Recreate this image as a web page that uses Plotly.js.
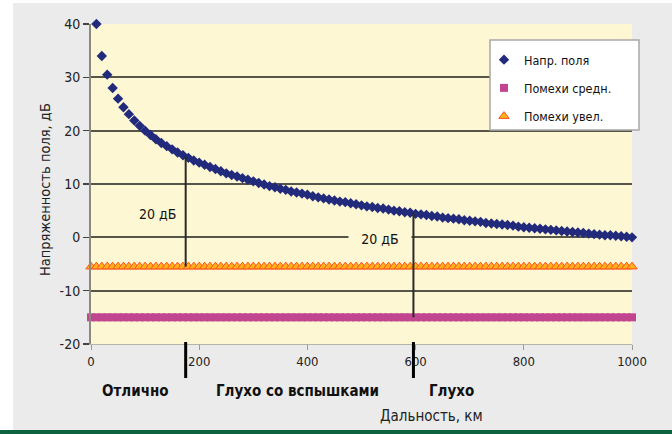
<!DOCTYPE html>
<html>
<head>
<meta charset="utf-8">
<script src="https://cdn.plot.ly/plotly-3.0.1.min.js"></script>
<style>
html,body{margin:0;padding:0;background:#fff;}
#chart{width:672px;height:434px;}
</style>
</head>
<body>
<div id="chart"></div>
<script>
// ---- data ----
var fieldDist = [10,20,30,40,50,60,70,80,90,100,110,120,130,140,150,160,170,180,190,200,210,220,230,240,250,260,270,280,290,300,310,320,330,340,350,360,370,380,390,400,410,420,430,440,450,460,470,480,490,500,510,520,530,540,550,560,570,580,590,600,610,620,630,640,650,660,670,680,690,700,710,720,730,740,750,760,770,780,790,800,810,820,830,840,850,860,870,880,890,900,910,920,930,940,950,960,970,980,990,1000];
var fieldDb = [40.0,34.0,30.5,28.0,26.0,24.4,23.1,21.9,20.9,20.0,19.2,18.4,17.7,17.1,16.5,15.9,15.4,14.9,14.4,14.0,13.6,13.2,12.8,12.4,12.0,11.7,11.4,11.1,10.8,10.5,10.2,9.9,9.6,9.4,9.1,8.9,8.6,8.4,8.2,8.0,7.7,7.5,7.3,7.1,6.9,6.7,6.6,6.4,6.2,6.0,5.8,5.7,5.5,5.4,5.2,5.0,4.9,4.7,4.6,4.4,4.3,4.2,4.0,3.9,3.7,3.6,3.5,3.4,3.2,3.1,3.0,2.9,2.7,2.6,2.5,2.4,2.3,2.2,2.0,1.9,1.8,1.7,1.6,1.5,1.4,1.3,1.2,1.1,1.0,0.9,0.8,0.7,0.6,0.5,0.4,0.4,0.3,0.2,0.1,0.0];
var noiseDist = [0,10,20,30,40,50,60,70,80,90,100,110,120,130,140,150,160,170,180,190,200,210,220,230,240,250,260,270,280,290,300,310,320,330,340,350,360,370,380,390,400,410,420,430,440,450,460,470,480,490,500,510,520,530,540,550,560,570,580,590,600,610,620,630,640,650,660,670,680,690,700,710,720,730,740,750,760,770,780,790,800,810,820,830,840,850,860,870,880,890,900,910,920,930,940,950,960,970,980,990,1000];
var noiseAvgDb = [-15,-15,-15,-15,-15,-15,-15,-15,-15,-15,-15,-15,-15,-15,-15,-15,-15,-15,-15,-15,-15,-15,-15,-15,-15,-15,-15,-15,-15,-15,-15,-15,-15,-15,-15,-15,-15,-15,-15,-15,-15,-15,-15,-15,-15,-15,-15,-15,-15,-15,-15,-15,-15,-15,-15,-15,-15,-15,-15,-15,-15,-15,-15,-15,-15,-15,-15,-15,-15,-15,-15,-15,-15,-15,-15,-15,-15,-15,-15,-15,-15,-15,-15,-15,-15,-15,-15,-15,-15,-15,-15,-15,-15,-15,-15,-15,-15,-15,-15,-15,-15];
var noiseHighDb = [-5.5,-5.5,-5.5,-5.5,-5.5,-5.5,-5.5,-5.5,-5.5,-5.5,-5.5,-5.5,-5.5,-5.5,-5.5,-5.5,-5.5,-5.5,-5.5,-5.5,-5.5,-5.5,-5.5,-5.5,-5.5,-5.5,-5.5,-5.5,-5.5,-5.5,-5.5,-5.5,-5.5,-5.5,-5.5,-5.5,-5.5,-5.5,-5.5,-5.5,-5.5,-5.5,-5.5,-5.5,-5.5,-5.5,-5.5,-5.5,-5.5,-5.5,-5.5,-5.5,-5.5,-5.5,-5.5,-5.5,-5.5,-5.5,-5.5,-5.5,-5.5,-5.5,-5.5,-5.5,-5.5,-5.5,-5.5,-5.5,-5.5,-5.5,-5.5,-5.5,-5.5,-5.5,-5.5,-5.5,-5.5,-5.5,-5.5,-5.5,-5.5,-5.5,-5.5,-5.5,-5.5,-5.5,-5.5,-5.5,-5.5,-5.5,-5.5,-5.5,-5.5,-5.5,-5.5,-5.5,-5.5,-5.5,-5.5,-5.5,-5.5];
var seriesNames = ['Напр. поля', 'Помехи средн.', 'Помехи увел.'];

// margin markers (20 dB) and zone boundaries
var markDist = [175, 596];
var markTop = [15.1, 4.5];
var markBottom = [-5.5, -15];
var marginLabel = '20 дБ';
var marginLabelX = [122, 534];
var marginLabelY = [4.4, -0.4];

var zoneLabels = ['Отлично', 'Глухо со вспышками', 'Глухо'];
var zoneCenters = [83, 381, 667];

var xTickVals = [0, 200, 400, 600, 800, 1000];
var yTickVals = [-20, -10, 0, 10, 20, 30, 40];
var yTickText = ['-20', '-10', '0', '10', '20', '30', '40'];
var xTitle = 'Дальность, км';
var xTitlePos = 630;
var yTitle = 'Напряженность поля, дБ';

// ---- styling ----
var FONT = '"DejaVu Sans Condensed", "Liberation Sans Narrow", "Arial Narrow", sans-serif';
var PLOTBG = '#fdf7d4';
var L = 91, R = 40, T = 24, B = 90, W = 672, H = 434;
var pw = W - L - R, ph = H - T - B;
function px2x(p) { return (p - L) / pw; }
function px2y(p) { return (H - B - p) / ph; }

var traces = [
  {x: fieldDist, y: fieldDb, name: seriesNames[0], type: 'scatter', mode: 'markers', legendgroup: 'a',
   cliponaxis: false, marker: {symbol: 'diamond', size: 8, color: '#222a7c'}},
  {x: noiseDist, y: noiseAvgDb, name: seriesNames[1], type: 'scatter', mode: 'markers', legendgroup: 'b',
   cliponaxis: false, marker: {symbol: 'square', size: 8, color: '#c2468f'}},
  {x: noiseDist, y: noiseHighDb, name: seriesNames[2], type: 'scatter', mode: 'markers', legendgroup: 'c',
   cliponaxis: false, marker: {symbol: 'triangle-up', size: 9, color: '#ffb21a', line: {color: '#ff4d1a', width: 1}}}
];

var shapes = [
  // outer frame pieces
  {type: 'rect', xref: 'paper', yref: 'paper', x0: px2x(-5), x1: px2x(13), y0: px2y(440), y1: px2y(-5), fillcolor: '#ffffff', line: {width: 0}, layer: 'below'},
  {type: 'rect', xref: 'paper', yref: 'paper', x0: px2x(-5), x1: px2x(680), y0: px2y(3), y1: px2y(-5), fillcolor: '#ffffff', line: {width: 0}, layer: 'below'},
  {type: 'rect', xref: 'paper', yref: 'paper', x0: px2x(-5), x1: px2x(680), y0: px2y(440), y1: px2y(430), fillcolor: '#0f6240', line: {width: 0}, layer: 'below'},
  // legend box
  {type: 'rect', xref: 'paper', yref: 'paper', x0: px2x(490), x1: px2x(639), y0: px2y(130), y1: px2y(40), fillcolor: '#ffffff', line: {color: '#a8a8a8', width: 1.5}, layer: 'above'}
];
for (var i = 0; i < markDist.length; i++) {
  shapes.push({type: 'line', xref: 'x', yref: 'y', x0: markDist[i], x1: markDist[i], y0: markTop[i], y1: markBottom[i],
               line: {color: '#2a2a26', width: 2}});
  shapes.push({type: 'line', xref: 'x', yref: 'paper', x0: markDist[i], x1: markDist[i], y0: px2y(342), y1: px2y(378),
               line: {color: '#000000', width: 3}});
}

var annotations = [];
for (var j = 0; j < marginLabelX.length; j++) {
  var ann = {x: marginLabelX[j], y: marginLabelY[j], xref: 'x', yref: 'y', text: marginLabel, showarrow: false,
    xanchor: 'center', yanchor: 'middle', font: {family: FONT, size: 14, color: '#111'}, borderpad: 1};
  if (j === 1) { ann.bgcolor = PLOTBG; ann.width = 60; }
  annotations.push(ann);
}
for (var k = 0; k < zoneLabels.length; k++) {
  annotations.push({x: zoneCenters[k], y: px2y(391), xref: 'x', yref: 'paper', text: '<b>' + zoneLabels[k] + '</b>', showarrow: false,
    xanchor: 'center', yanchor: 'middle', font: {family: FONT, size: 15, color: '#111'}});
}
annotations.push({x: xTitlePos, y: px2y(416), xref: 'x', yref: 'paper', text: xTitle, showarrow: false,
  xanchor: 'center', yanchor: 'middle', font: {family: FONT, size: 15, color: '#222'}});
annotations.push({x: px2x(45), y: px2y(190), xref: 'paper', yref: 'paper', text: yTitle, showarrow: false, textangle: -90,
  xanchor: 'center', yanchor: 'middle', font: {family: FONT, size: 14.5, color: '#222'}});

var layout = {
  width: W, height: H,
  margin: {l: L, r: R, t: T, b: B, pad: 0},
  paper_bgcolor: '#ebebeb',
  plot_bgcolor: PLOTBG,
  font: {family: FONT, size: 13, color: '#222'},
  showlegend: true,
  legend: {x: px2x(484), y: px2y(45), xanchor: 'left', yanchor: 'top', bgcolor: 'rgba(0,0,0,0)', borderwidth: 0,
           font: {family: FONT, size: 12.5, color: '#111'}, tracegroupgap: 9, itemclick: false},
  xaxis: {range: [0, 1000], tickvals: xTickVals, ticks: 'outside', ticklen: 5, tickcolor: '#999', tickwidth: 1,
          showgrid: false, zeroline: false, showline: true, linecolor: '#b5b5a5', linewidth: 1,
          tickfont: {family: FONT, size: 13, color: '#222'}, fixedrange: true},
  yaxis: {range: [-20, 40], tickvals: yTickVals, ticktext: yTickText, ticks: 'outside', ticklen: 6, tickcolor: '#444', tickwidth: 1.5,
          showgrid: true, gridcolor: '#55554a', gridwidth: 2, zeroline: false, showline: true, linecolor: '#8a8a80', linewidth: 2,
          tickfont: {family: FONT, size: 14, color: '#222'}, fixedrange: true},
  shapes: shapes,
  annotations: annotations
};

Plotly.newPlot('chart', traces, layout, {displayModeBar: false, staticPlot: true});
</script>
</body>
</html>
